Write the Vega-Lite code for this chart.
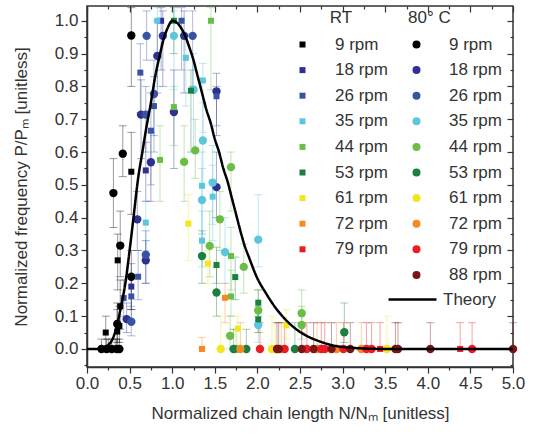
{
  "$schema": "https://vega.github.io/schema/vega-lite/v6.json",
  "width": 426,
  "height": 361,
  "autosize": {"type": "none"},
  "padding": {"left": 87, "top": 6, "right": 26, "bottom": 73},
  "config": {
    "view": {"stroke": "#333", "strokeWidth": 1.5},
    "font": "Liberation Sans",
    "axis": {"labelFont": "Liberation Sans", "labelFontSize": 17, "labelColor": "#333", "titleFont": "Liberation Sans", "titleFontSize": 17, "titleFontWeight": "normal", "titleColor": "#333", "domainColor": "#333", "domainWidth": 1.5, "tickColor": "#333", "tickWidth": 1.2, "grid": false, "labelFlush": false, "labelOverlap": false, "labelBound": false},
    "legend": {"labelFont": "Liberation Sans", "labelFontSize": 17, "labelColor": "#333", "titleFont": "Liberation Sans", "titleFontSize": 17, "titleFontWeight": "normal", "titleColor": "#333", "padding": 0, "rowPadding": 7.6, "symbolOpacity": 1}
  },
  "datasets": {
    "pts": [
      {"t": "RT", "s": "9 rpm", "n": 0.52, "p": 0.54, "lo": 0.41, "hi": 0.66},
      {"t": "RT", "s": "9 rpm", "n": 0.36, "p": 0.27, "lo": 0.18, "hi": 0.35},
      {"t": "RT", "s": "9 rpm", "n": 0.39, "p": 0.13, "lo": 0.06, "hi": 0.21},
      {"t": "RT", "s": "9 rpm", "n": 0.22, "p": 0.05, "lo": 0.0, "hi": 0.1},
      {"t": "RT", "s": "9 rpm", "n": 0.355, "p": 0.053, "lo": 0.0, "hi": 0.12},
      {"t": "RT", "s": "9 rpm", "n": 0.38, "p": 0.07, "lo": 0.02, "hi": 0.13},
      {"t": "RT", "s": "9 rpm", "n": 0.25, "p": 0, "lo": 0, "hi": 0.03},
      {"t": "RT", "s": "9 rpm", "n": 0.33, "p": 0, "lo": 0, "hi": 0.03},
      {"t": "RT", "s": "18 rpm", "n": 0.87, "p": 1.0, "lo": 0.85, "hi": 1.04},
      {"t": "RT", "s": "18 rpm", "n": 0.69, "p": 0.544, "lo": 0.45, "hi": 0.63},
      {"t": "RT", "s": "18 rpm", "n": 0.52, "p": 0.19, "lo": 0.12, "hi": 0.26},
      {"t": "RT", "s": "26 rpm", "n": 1.11, "p": 1.0, "lo": 0.85, "hi": 1.04},
      {"t": "RT", "s": "26 rpm", "n": 0.626, "p": 0.842, "lo": 0.72, "hi": 0.93},
      {"t": "RT", "s": "26 rpm", "n": 0.786, "p": 0.74, "lo": 0.6, "hi": 0.83},
      {"t": "RT", "s": "26 rpm", "n": 1.52, "p": 0.77, "lo": 0.68, "hi": 0.8},
      {"t": "RT", "s": "26 rpm", "n": 0.75, "p": 0.665, "lo": 0.5, "hi": 0.78},
      {"t": "RT", "s": "26 rpm", "n": 0.6, "p": 0.22, "lo": 0.15, "hi": 0.3},
      {"t": "RT", "s": "26 rpm", "n": 0.52, "p": 0.16, "lo": 0.08, "hi": 0.22},
      {"t": "RT", "s": "26 rpm", "n": 0.43, "p": 0.155, "lo": 0.1, "hi": 0.21},
      {"t": "RT", "s": "35 rpm", "n": 0.825, "p": 1.0, "lo": 0.8, "hi": 1.04},
      {"t": "RT", "s": "35 rpm", "n": 1.16, "p": 0.887, "lo": 0.74, "hi": 0.96},
      {"t": "RT", "s": "35 rpm", "n": 1.36, "p": 0.818, "lo": 0.66, "hi": 0.87},
      {"t": "RT", "s": "35 rpm", "n": 1.35, "p": 0.497, "lo": 0.35, "hi": 0.6},
      {"t": "RT", "s": "35 rpm", "n": 1.475, "p": 0.464, "lo": 0.33, "hi": 0.56},
      {"t": "RT", "s": "35 rpm", "n": 0.69, "p": 0.385, "lo": 0.3, "hi": 0.45},
      {"t": "RT", "s": "35 rpm", "n": 1.35, "p": 0.33, "lo": 0.25, "hi": 0.42},
      {"t": "RT", "s": "44 rpm", "n": 1.455, "p": 1.0, "lo": 0.79, "hi": 1.04},
      {"t": "RT", "s": "44 rpm", "n": 1.02, "p": 0.737, "lo": 0.62, "hi": 0.8},
      {"t": "RT", "s": "44 rpm", "n": 0.857, "p": 0.576, "lo": 0.45, "hi": 0.68},
      {"t": "RT", "s": "44 rpm", "n": 1.69, "p": 0.283, "lo": 0.18, "hi": 0.37},
      {"t": "RT", "s": "44 rpm", "n": 1.69, "p": 0.16, "lo": 0.1, "hi": 0.24},
      {"t": "RT", "s": "53 rpm", "n": 1.02, "p": 1.0, "lo": 0.9, "hi": 1.04},
      {"t": "RT", "s": "53 rpm", "n": 1.22, "p": 0.787, "lo": 0.6, "hi": 0.85},
      {"t": "RT", "s": "53 rpm", "n": 1.52, "p": 0.256, "lo": 0.2, "hi": 0.31},
      {"t": "RT", "s": "53 rpm", "n": 1.74, "p": 0.219, "lo": 0.15, "hi": 0.28},
      {"t": "RT", "s": "53 rpm", "n": 2.01, "p": 0.141, "lo": 0.1, "hi": 0.18},
      {"t": "RT", "s": "53 rpm", "n": 2.01, "p": 0.09, "lo": 0.05, "hi": 0.13},
      {"t": "RT", "s": "61 rpm", "n": 1.19, "p": 0.382, "lo": 0.27, "hi": 0.47},
      {"t": "RT", "s": "61 rpm", "n": 1.42, "p": 0.26, "lo": 0.2, "hi": 0.3},
      {"t": "RT", "s": "61 rpm", "n": 1.77, "p": 0.062, "lo": 0.0, "hi": 0.1},
      {"t": "RT", "s": "61 rpm", "n": 2.34, "p": 0.072, "lo": 0.03, "hi": 0.12},
      {"t": "RT", "s": "72 rpm", "n": 1.62, "p": 0.156, "lo": 0.08, "hi": 0.2},
      {"t": "RT", "s": "72 rpm", "n": 1.35, "p": 0, "lo": 0, "hi": 0.035},
      {"t": "RT", "s": "79 rpm", "n": 3.44, "p": 0, "lo": 0, "hi": 0.08},
      {"t": "RT", "s": "79 rpm", "n": 4.38, "p": 0, "lo": 0, "hi": 0.08},
      {"t": "80", "s": "9 rpm", "n": 0.52, "p": 0.955, "lo": 0.8, "hi": 1.04},
      {"t": "80", "s": "9 rpm", "n": 0.42, "p": 0.595, "lo": 0.525, "hi": 0.68},
      {"t": "80", "s": "9 rpm", "n": 0.31, "p": 0.475, "lo": 0.37, "hi": 0.58},
      {"t": "80", "s": "9 rpm", "n": 0.39, "p": 0.315, "lo": 0.22, "hi": 0.42},
      {"t": "80", "s": "9 rpm", "n": 0.52, "p": 0.22, "lo": 0.12, "hi": 0.3},
      {"t": "80", "s": "9 rpm", "n": 0.355, "p": 0.076, "lo": 0.02, "hi": 0.14},
      {"t": "80", "s": "9 rpm", "n": 0.17, "p": 0, "lo": 0, "hi": 0.03},
      {"t": "80", "s": "9 rpm", "n": 0.23, "p": 0, "lo": 0, "hi": 0.03},
      {"t": "80", "s": "9 rpm", "n": 0.29, "p": 0, "lo": 0, "hi": 0.03},
      {"t": "80", "s": "9 rpm", "n": 0.35, "p": 0, "lo": 0, "hi": 0.03},
      {"t": "80", "s": "9 rpm", "n": 0.38, "p": 0, "lo": 0, "hi": 0.03},
      {"t": "80", "s": "18 rpm", "n": 0.89, "p": 0.954, "lo": 0.8, "hi": 1.03},
      {"t": "80", "s": "18 rpm", "n": 1.14, "p": 0.954, "lo": 0.78, "hi": 1.03},
      {"t": "80", "s": "18 rpm", "n": 0.825, "p": 0.893, "lo": 0.78, "hi": 1.0},
      {"t": "80", "s": "18 rpm", "n": 1.52, "p": 0.785, "lo": 0.65, "hi": 0.84},
      {"t": "80", "s": "18 rpm", "n": 1.02, "p": 0.722, "lo": 0.55, "hi": 0.85},
      {"t": "80", "s": "18 rpm", "n": 0.634, "p": 0.714, "lo": 0.58, "hi": 0.82},
      {"t": "80", "s": "18 rpm", "n": 0.75, "p": 0.569, "lo": 0.45, "hi": 0.66},
      {"t": "80", "s": "18 rpm", "n": 0.59, "p": 0.395, "lo": 0.3, "hi": 0.48},
      {"t": "80", "s": "18 rpm", "n": 0.69, "p": 0.27, "lo": 0.2, "hi": 0.33},
      {"t": "80", "s": "18 rpm", "n": 0.465, "p": 0.091, "lo": 0.05, "hi": 0.14},
      {"t": "80", "s": "18 rpm", "n": 1.52, "p": 0.493, "lo": 0.4, "hi": 0.6},
      {"t": "80", "s": "26 rpm", "n": 0.7, "p": 0.954, "lo": 0.88, "hi": 1.03},
      {"t": "80", "s": "26 rpm", "n": 1.24, "p": 0.954, "lo": 0.8, "hi": 1.03},
      {"t": "80", "s": "26 rpm", "n": 0.786, "p": 0.777, "lo": 0.65, "hi": 0.88},
      {"t": "80", "s": "26 rpm", "n": 0.69, "p": 0.714, "lo": 0.6, "hi": 0.8},
      {"t": "80", "s": "26 rpm", "n": 0.69, "p": 0.287, "lo": 0.2, "hi": 0.36},
      {"t": "80", "s": "26 rpm", "n": 0.52, "p": 0.083, "lo": 0.04, "hi": 0.13},
      {"t": "80", "s": "35 rpm", "n": 1.02, "p": 0.954, "lo": 0.79, "hi": 1.03},
      {"t": "80", "s": "35 rpm", "n": 1.25, "p": 0.79, "lo": 0.6, "hi": 0.9},
      {"t": "80", "s": "35 rpm", "n": 1.36, "p": 0.635, "lo": 0.5, "hi": 0.75},
      {"t": "80", "s": "35 rpm", "n": 1.475, "p": 0.507, "lo": 0.38, "hi": 0.62},
      {"t": "80", "s": "35 rpm", "n": 1.35, "p": 0.454, "lo": 0.35, "hi": 0.55},
      {"t": "80", "s": "35 rpm", "n": 1.62, "p": 0.295, "lo": 0.2, "hi": 0.4},
      {"t": "80", "s": "35 rpm", "n": 2.01, "p": 0.333, "lo": 0.25, "hi": 0.47},
      {"t": "80", "s": "35 rpm", "n": 2.01, "p": 0.073, "lo": 0.02, "hi": 0.12},
      {"t": "80", "s": "44 rpm", "n": 1.27, "p": 0.605, "lo": 0.52, "hi": 0.7},
      {"t": "80", "s": "44 rpm", "n": 1.14, "p": 0.57, "lo": 0.45, "hi": 0.68},
      {"t": "80", "s": "44 rpm", "n": 1.69, "p": 0.554, "lo": 0.42, "hi": 0.6},
      {"t": "80", "s": "44 rpm", "n": 1.56, "p": 0.395, "lo": 0.3, "hi": 0.48},
      {"t": "80", "s": "44 rpm", "n": 1.44, "p": 0.314, "lo": 0.22, "hi": 0.42},
      {"t": "80", "s": "44 rpm", "n": 1.84, "p": 0.25, "lo": 0.17, "hi": 0.32},
      {"t": "80", "s": "44 rpm", "n": 2.01, "p": 0.117, "lo": 0.05, "hi": 0.18},
      {"t": "80", "s": "44 rpm", "n": 1.68, "p": 0.04, "lo": 0, "hi": 0.1},
      {"t": "80", "s": "44 rpm", "n": 2.52, "p": 0.109, "lo": 0.05, "hi": 0.18},
      {"t": "80", "s": "44 rpm", "n": 2.52, "p": 0.073, "lo": 0.03, "hi": 0.13},
      {"t": "80", "s": "44 rpm", "n": 1.75, "p": 0, "lo": 0, "hi": 0.06},
      {"t": "80", "s": "53 rpm", "n": 1.35, "p": 0.283, "lo": 0.2, "hi": 0.36},
      {"t": "80", "s": "53 rpm", "n": 1.52, "p": 0.172, "lo": 0.1, "hi": 0.25},
      {"t": "80", "s": "53 rpm", "n": 3.02, "p": 0.051, "lo": 0.02, "hi": 0.14},
      {"t": "80", "s": "53 rpm", "n": 1.72, "p": 0, "lo": 0, "hi": 0.06},
      {"t": "80", "s": "53 rpm", "n": 1.87, "p": 0, "lo": 0, "hi": 0.06},
      {"t": "80", "s": "53 rpm", "n": 2.44, "p": 0, "lo": 0, "hi": 0.08},
      {"t": "80", "s": "61 rpm", "n": 1.57, "p": 0, "lo": 0, "hi": 0.1},
      {"t": "80", "s": "61 rpm", "n": 2.17, "p": 0, "lo": 0, "hi": 0.1},
      {"t": "80", "s": "61 rpm", "n": 3.52, "p": 0, "lo": 0, "hi": 0.1},
      {"t": "80", "s": "61 rpm", "n": 2.21, "p": 0, "lo": 0, "hi": 0.08},
      {"t": "80", "s": "72 rpm", "n": 1.8, "p": 0, "lo": 0, "hi": 0.08},
      {"t": "80", "s": "72 rpm", "n": 2.28, "p": 0, "lo": 0, "hi": 0.08},
      {"t": "80", "s": "72 rpm", "n": 2.7, "p": 0, "lo": 0, "hi": 0.08},
      {"t": "80", "s": "72 rpm", "n": 2.93, "p": 0, "lo": 0, "hi": 0.08},
      {"t": "80", "s": "72 rpm", "n": 3.22, "p": 0, "lo": 0, "hi": 0.08},
      {"t": "80", "s": "79 rpm", "n": 2.03, "p": 0, "lo": 0, "hi": 0.08},
      {"t": "80", "s": "79 rpm", "n": 2.32, "p": 0, "lo": 0, "hi": 0.08},
      {"t": "80", "s": "79 rpm", "n": 2.58, "p": 0, "lo": 0, "hi": 0.08},
      {"t": "80", "s": "79 rpm", "n": 2.75, "p": 0, "lo": 0, "hi": 0.08},
      {"t": "80", "s": "79 rpm", "n": 2.79, "p": 0, "lo": 0, "hi": 0.08},
      {"t": "80", "s": "79 rpm", "n": 3.01, "p": 0, "lo": 0, "hi": 0.08},
      {"t": "80", "s": "79 rpm", "n": 3.28, "p": 0, "lo": 0, "hi": 0.08},
      {"t": "80", "s": "79 rpm", "n": 3.34, "p": 0, "lo": 0, "hi": 0.08},
      {"t": "80", "s": "79 rpm", "n": 4.52, "p": 0, "lo": 0, "hi": 0.08},
      {"t": "80", "s": "88 rpm", "n": 2.23, "p": 0, "lo": 0, "hi": 0.08},
      {"t": "80", "s": "88 rpm", "n": 2.25, "p": 0, "lo": 0, "hi": 0.08},
      {"t": "80", "s": "88 rpm", "n": 2.52, "p": 0, "lo": 0, "hi": 0.08},
      {"t": "80", "s": "88 rpm", "n": 2.66, "p": 0, "lo": 0, "hi": 0.08},
      {"t": "80", "s": "88 rpm", "n": 2.87, "p": 0, "lo": 0, "hi": 0.08},
      {"t": "80", "s": "88 rpm", "n": 3.09, "p": 0, "lo": 0, "hi": 0.08},
      {"t": "80", "s": "88 rpm", "n": 3.62, "p": 0, "lo": 0, "hi": 0.08},
      {"t": "80", "s": "88 rpm", "n": 3.65, "p": 0, "lo": 0, "hi": 0.08},
      {"t": "80", "s": "88 rpm", "n": 4.03, "p": 0, "lo": 0, "hi": 0.08},
      {"t": "80", "s": "88 rpm", "n": 5.0, "p": 0, "lo": 0, "hi": 0.08}
    ],
    "theory": [
      {"n": 0.0, "p": 0.0}, {"n": 0.1, "p": 0.0}, {"n": 0.2, "p": 0.005}, {"n": 0.25, "p": 0.012},
      {"n": 0.3, "p": 0.03}, {"n": 0.35, "p": 0.07}, {"n": 0.4, "p": 0.13}, {"n": 0.45, "p": 0.2},
      {"n": 0.5, "p": 0.3}, {"n": 0.55, "p": 0.41}, {"n": 0.6, "p": 0.52}, {"n": 0.65, "p": 0.6},
      {"n": 0.7, "p": 0.68}, {"n": 0.75, "p": 0.75}, {"n": 0.8, "p": 0.83}, {"n": 0.85, "p": 0.89},
      {"n": 0.9, "p": 0.945}, {"n": 0.95, "p": 0.98}, {"n": 1.0, "p": 1.0}, {"n": 1.05, "p": 0.995},
      {"n": 1.1, "p": 0.98}, {"n": 1.15, "p": 0.955}, {"n": 1.2, "p": 0.92}, {"n": 1.25, "p": 0.88},
      {"n": 1.3, "p": 0.83}, {"n": 1.35, "p": 0.78}, {"n": 1.4, "p": 0.73}, {"n": 1.45, "p": 0.69},
      {"n": 1.5, "p": 0.64}, {"n": 1.55, "p": 0.6}, {"n": 1.6, "p": 0.55}, {"n": 1.65, "p": 0.51},
      {"n": 1.7, "p": 0.46}, {"n": 1.75, "p": 0.41}, {"n": 1.8, "p": 0.36}, {"n": 1.85, "p": 0.315},
      {"n": 1.9, "p": 0.28}, {"n": 2.0, "p": 0.215}, {"n": 2.1, "p": 0.17}, {"n": 2.2, "p": 0.13},
      {"n": 2.3, "p": 0.098}, {"n": 2.4, "p": 0.072}, {"n": 2.5, "p": 0.052}, {"n": 2.6, "p": 0.037},
      {"n": 2.7, "p": 0.026}, {"n": 2.8, "p": 0.017}, {"n": 2.9, "p": 0.01}, {"n": 3.0, "p": 0.006},
      {"n": 3.2, "p": 0.002}, {"n": 3.5, "p": 0.0}, {"n": 4.0, "p": 0.0}, {"n": 5.0, "p": 0.0}
    ]
  },
  "layer": [
    {
      "data": {"name": "pts"},
      "mark": {"type": "rule", "strokeWidth": 1, "opacity": 0.4},
      "encoding": {
        "x": {"field": "n", "type": "quantitative", "scale": {"domain": [0, 5], "nice": false, "zero": false},
          "axis": {"orient": "bottom", "title": "Normalized chain length N/Nₘ [unitless]", "titlePadding": 14, "labelPadding": 2,
            "values": [0, 0.25, 0.5, 0.75, 1, 1.25, 1.5, 1.75, 2, 2.25, 2.5, 2.75, 3, 3.25, 3.5, 3.75, 4, 4.25, 4.5, 4.75, 5],
            "labelExpr": "(datum.value*2) % 1 == 0 ? format(datum.value, '.1f') : ''",
            "tickSize": {"condition": {"test": "(datum.value*2) % 1 == 0", "value": 6}, "value": 3}}},
        "y": {"field": "lo", "type": "quantitative", "scale": {"domain": [-0.055, 1.045], "nice": false, "zero": false},
          "axis": {"orient": "left", "title": "Normalized frequency P/Pₘ [unitless]", "titlePadding": 24, "labelPadding": 3,
            "values": [-0.05, 0, 0.05, 0.1, 0.15, 0.2, 0.25, 0.3, 0.35, 0.4, 0.45, 0.5, 0.55, 0.6, 0.65, 0.7, 0.75, 0.8, 0.85, 0.9, 0.95, 1.0],
            "labelExpr": "abs(datum.value*10 - round(datum.value*10)) < 0.001 ? format(datum.value, '.1f') : ''",
            "tickSize": {"condition": {"test": "abs(datum.value*10 - round(datum.value*10)) < 0.001", "value": 6}, "value": 3}}},
        "y2": {"field": "hi"},
        "stroke": {"field": "s", "type": "nominal", "legend": null,
          "scale": {"domain": ["88 rpm", "79 rpm", "72 rpm", "61 rpm", "53 rpm", "44 rpm", "35 rpm", "26 rpm", "18 rpm", "9 rpm"],
            "range": ["#7a1416", "#ed1c24", "#f58a22", "#f4e61c", "#1b7f3f", "#6abd45", "#5bc6dd", "#3953a4", "#2e3192", "#000000"]}}
      }
    },
    {
      "data": {"name": "pts"},
      "mark": {"type": "tick", "orient": "horizontal", "size": 8, "thickness": 1, "opacity": 0.4},
      "encoding": {
        "x": {"field": "n", "type": "quantitative", "axis": null},
        "y": {"field": "hi", "type": "quantitative", "axis": null},
        "fill": {"field": "s", "type": "nominal",
          "scale": {"domain": ["9 rpm", "18 rpm", "26 rpm", "35 rpm", "44 rpm", "53 rpm", "61 rpm", "72 rpm", "79 rpm", "88 rpm"],
            "range": ["#000000", "#2e3192", "#3953a4", "#5bc6dd", "#6abd45", "#1b7f3f", "#f4e61c", "#f58a22", "#ed1c24", "#7a1416"]},
          "legend": {"orient": "none", "legendX": 321, "legendY": 4, "title": "80° C", "titleAnchor": "start", "titlePadding": 9,
            "symbolType": "circle", "symbolSize": 64, "labelOffset": 24, "symbolOpacity": 1}}
      }
    },
    {
      "data": {"name": "pts"},
      "mark": {"type": "tick", "orient": "horizontal", "size": 8, "thickness": 1, "opacity": 0.4},
      "encoding": {
        "x": {"field": "n", "type": "quantitative", "axis": null},
        "y": {"field": "lo", "type": "quantitative", "axis": null},
        "fill": {"field": "s", "type": "nominal",
          "scale": {"domain": ["9 rpm", "18 rpm", "26 rpm", "35 rpm", "44 rpm", "53 rpm", "61 rpm", "72 rpm", "79 rpm", "88 rpm"],
            "range": ["#000000", "#2e3192", "#3953a4", "#5bc6dd", "#6abd45", "#1b7f3f", "#f4e61c", "#f58a22", "#ed1c24", "#7a1416"]},
          "legend": {"orient": "none", "legendX": 321, "legendY": 4, "title": "80° C", "titleAnchor": "start", "titlePadding": 9,
            "symbolType": "circle", "symbolSize": 64, "labelOffset": 24, "symbolOpacity": 1}}
      }
    },
    {
      "data": {"name": "pts"},
      "transform": [{"filter": "datum.t == '80'"}],
      "mark": {"type": "point", "shape": "circle", "filled": true, "opacity": 1, "size": 70},
      "encoding": {
        "x": {"field": "n", "type": "quantitative", "axis": null},
        "y": {"field": "p", "type": "quantitative", "axis": null},
        "fill": {"field": "s", "type": "nominal",
          "scale": {"domain": ["9 rpm", "18 rpm", "26 rpm", "35 rpm", "44 rpm", "53 rpm", "61 rpm", "72 rpm", "79 rpm", "88 rpm"],
            "range": ["#000000", "#2e3192", "#3953a4", "#5bc6dd", "#6abd45", "#1b7f3f", "#f4e61c", "#f58a22", "#ed1c24", "#7a1416"]},
          "legend": {"orient": "none", "legendX": 321, "legendY": 4, "title": "80° C", "titleAnchor": "start", "titlePadding": 9,
            "symbolType": "circle", "symbolSize": 64, "labelOffset": 24, "symbolOpacity": 1}}
      }
    },
    {
      "data": {"name": "pts"},
      "transform": [{"filter": "datum.t == 'RT'"}],
      "mark": {"type": "point", "shape": "square", "filled": true, "opacity": 1, "size": 36},
      "encoding": {
        "x": {"field": "n", "type": "quantitative", "axis": null},
        "y": {"field": "p", "type": "quantitative", "axis": null},
        "color": {"field": "s", "type": "nominal",
          "scale": {"domain": ["9 rpm", "18 rpm", "26 rpm", "35 rpm", "44 rpm", "53 rpm", "61 rpm", "72 rpm", "79 rpm"],
            "range": ["#000000", "#2e3192", "#3953a4", "#5bc6dd", "#6abd45", "#1b7f3f", "#f4e61c", "#f58a22", "#ed1c24"]},
          "legend": {"orient": "none", "legendX": 207, "legendY": 4, "title": "RT", "titleAnchor": "middle", "titlePadding": 9,
            "symbolType": "square", "symbolSize": 36, "labelOffset": 24, "symbolOpacity": 1}}
      }
    },
    {
      "data": {"name": "theory"},
      "mark": {"type": "line", "color": "black", "strokeWidth": 2.5, "interpolate": "monotone"},
      "encoding": {
        "x": {"field": "n", "type": "quantitative",
          "axis": {"orient": "top", "title": null, "labels": false, "domain": false,
            "values": [0, 0.25, 0.5, 0.75, 1, 1.25, 1.5, 1.75, 2, 2.25, 2.5, 2.75, 3, 3.25, 3.5, 3.75, 4, 4.25, 4.5, 4.75, 5],
            "tickSize": {"condition": {"test": "(datum.value*2) % 1 == 0", "value": -6}, "value": -3}}},
        "y": {"field": "p", "type": "quantitative",
          "axis": {"orient": "right", "title": null, "labels": false, "domain": false,
            "values": [-0.05, 0, 0.05, 0.1, 0.15, 0.2, 0.25, 0.3, 0.35, 0.4, 0.45, 0.5, 0.55, 0.6, 0.65, 0.7, 0.75, 0.8, 0.85, 0.9, 0.95, 1.0],
            "tickSize": {"condition": {"test": "abs(datum.value*10 - round(datum.value*10)) < 0.001", "value": -6}, "value": -3}}},
        "strokeDash": {"datum": "Theory", "scale": {"range": [[1, 0]]},
          "legend": {"orient": "none", "legendX": 300, "legendY": 268, "title": null, "symbolType": "stroke", "symbolSize": 2300,
            "symbolStrokeWidth": 2.5, "symbolStrokeColor": "black", "labelOffset": 5}}
      }
    }
  ],
  "resolve": {"axis": {"x": "independent", "y": "independent"}}
}
